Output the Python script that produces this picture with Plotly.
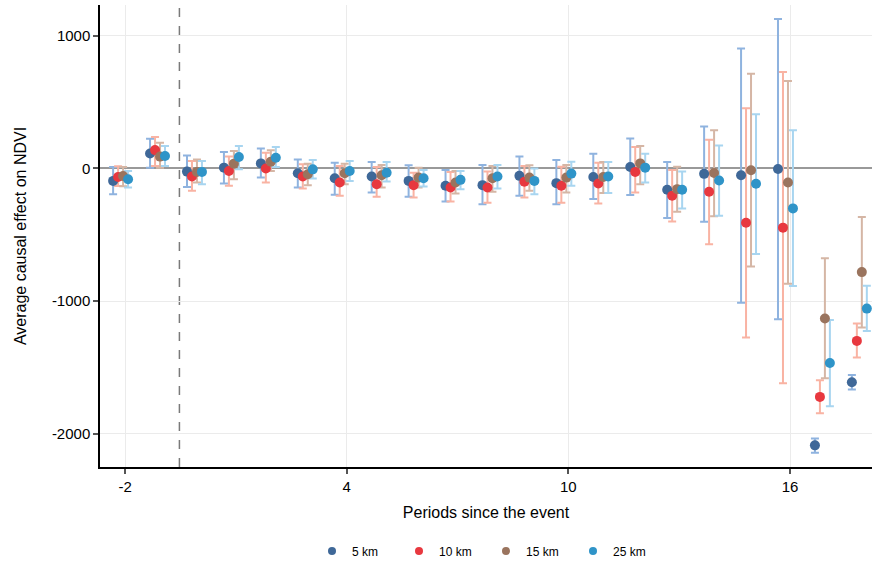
import plotly.graph_objects as go

periods = list(range(-2, 19))

est_5 = [-95, 112, -25, 5, 37, -37, -75, -62, -95, -132, -127, -57, -112, -65, 10, -162, -42, -52, -5, -2087, -1612]
lo_5 = [-195, 5, -140, -115, -70, -145, -200, -182, -215, -250, -270, -207, -270, -232, -202, -375, -402, -1012, -1137, -2142, -1667]
hi_5 = [10, 222, 97, 122, 150, 67, 42, 47, 22, -12, 25, 88, 62, 110, 225, 47, 315, 902, 1125, -2035, -1557]

est_10 = [-65, 137, -62, -20, -2, -62, -107, -120, -127, -145, -145, -102, -132, -115, -27, -207, -177, -410, -447, -1722, -1300]
lo_10 = [-133, 17, -170, -132, -107, -152, -207, -215, -220, -250, -260, -220, -260, -265, -182, -400, -572, -1275, -1620, -1845, -1425]
hi_10 = [15, 235, 55, 88, 117, 30, 17, 10, -33, -27, -25, 17, 12, 42, 160, -12, 215, 452, 725, -1597, -1170]

est_15 = [-58, 88, -27, 35, 50, -45, -37, -52, -70, -107, -75, -70, -70, -65, 37, -157, -35, -15, -107, -1132, -782]
lo_15 = [-135, 5, -107, -82, -20, -127, -120, -145, -145, -190, -177, -170, -182, -187, -120, -327, -362, -740, -870, -1582, -1200]
hi_15 = [10, 193, 67, 130, 135, 35, 35, 25, 5, -20, 17, 22, 25, 47, 167, 12, 287, 712, 657, -677, -367]

est_25 = [-83, 92, -27, 85, 80, -8, -20, -33, -75, -87, -62, -95, -40, -62, 5, -162, -92, -117, -302, -1467, -1057]
lo_25 = [-145, 17, -120, -8, 10, -77, -95, -100, -137, -157, -152, -195, -132, -187, -107, -302, -357, -645, -887, -1792, -1225]
hi_25 = [-20, 167, 55, 167, 160, 62, 55, 47, -12, -20, 25, -2, 50, 47, 110, -25, 172, 407, 287, -1142, -885]

x_ticks = [-2, 4, 10, 16]
x_ticklabels = ["-2", "4", "10", "16"]
y_ticks = [-2000, -1000, 0, 1000]
y_ticklabels = ["-2000", "-1000", "0", "1000"]

series = [
    ("5 km", est_5, lo_5, hi_5, "#3F6898", "#8FB3DF", -0.325),
    ("10 km", est_10, lo_10, hi_10, "#E8383F", "#F9B3A3", -0.19),
    ("15 km", est_15, lo_15, hi_15, "#9A745E", "#D5B6A5", -0.055),
    ("25 km", est_25, lo_25, hi_25, "#2F94C8", "#A8D5F0", 0.08),
]

fig = go.Figure()

# error bars first
for name, est, lo, hi, dot, bar, off in series:
    xs = [p + off for p in periods]
    fig.add_trace(go.Scatter(
        x=xs, y=est, mode="markers",
        marker=dict(size=10, color="rgba(0,0,0,0)"),
        error_y=dict(type="data", symmetric=False,
                     array=[h - e for h, e in zip(hi, est)],
                     arrayminus=[e - l for e, l in zip(est, lo)],
                     color=bar, thickness=2, width=4),
        showlegend=False, hoverinfo="skip"))

# points on top
for name, est, lo, hi, dot, bar, off in series:
    xs = [p + off for p in periods]
    fig.add_trace(go.Scatter(
        x=xs, y=est, mode="markers", name=name,
        marker=dict(size=10, color=dot),
        showlegend=False))

# legend entries
for name, est, lo, hi, dot, bar, off in series:
    fig.add_trace(go.Scatter(
        x=[None], y=[None], mode="markers", name=name,
        marker=dict(size=8, color=dot), showlegend=True))

fig.add_shape(type="line", x0=-0.53, x1=-0.53, y0=0, y1=1, yref="paper", xref="x",
              line=dict(color="#7a7a7a", width=1.5, dash="dash"), layer="below")

fig.update_layout(
    width=872, height=565,
    margin=dict(l=100, r=0, t=5, b=98, autoexpand=False),
    paper_bgcolor="white", plot_bgcolor="white",
    font=dict(family="Liberation Sans, Arial, sans-serif", color="black"),
    legend=dict(orientation="h", x=0.5, xanchor="center", y=-0.182, yanchor="middle",
                font=dict(size=12), entrywidth=42, itemwidth=30),
    xaxis=dict(range=[-2.68, 18.22], tickmode="array", tickvals=x_ticks,
               ticktext=x_ticklabels, automargin=False,
               showgrid=True, gridcolor="#EBEBEB", gridwidth=1,
               showline=True, linecolor="black", linewidth=1.5,
               ticks="outside", ticklen=5, tickcolor="#555", tickwidth=1.5,
               tickfont=dict(size=15), zeroline=False,
               title=dict(text="Periods since the event", font=dict(size=16), standoff=13)),
    yaxis=dict(range=[-2250, 1230], tickmode="array", tickvals=y_ticks,
               ticktext=y_ticklabels, automargin=False,
               showgrid=True, gridcolor="#EBEBEB", gridwidth=1,
               showline=True, linecolor="black", linewidth=1.5,
               ticks="outside", ticklen=5, tickcolor="#555", tickwidth=1.5,
               tickfont=dict(size=15),
               zeroline=True, zerolinecolor="#999999", zerolinewidth=1.5,
               title=dict(text="Average causal effect on NDVI", font=dict(size=16), standoff=21)),
)

fig.write_html("out.html", config={"displayModeBar": False},
               post_script="document.body.style.margin='0';")
